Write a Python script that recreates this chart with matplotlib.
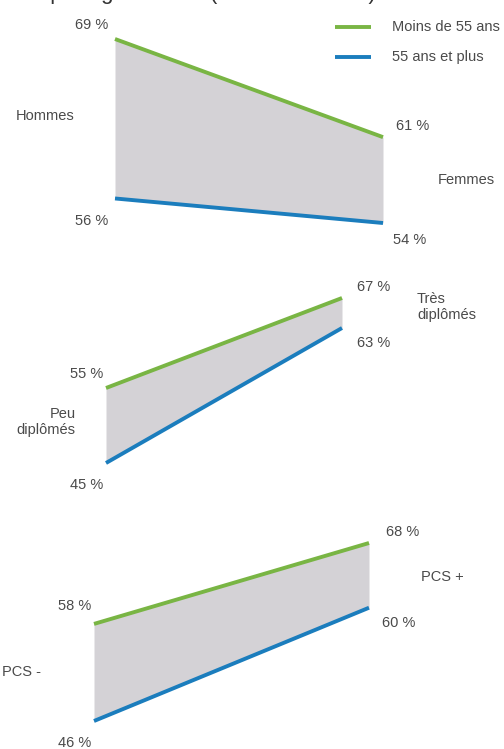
import matplotlib
matplotlib.use("Agg")
import matplotlib.pyplot as plt

# Share of each group, under 55 vs 55 and over
groups_left = ["Hommes", "Peu\ndiplômés", "PCS -"]
groups_right = ["Femmes", "Très\ndiplômés", "PCS +"]
under55_left = [69, 55, 58]
under55_right = [61, 67, 68]
over55_left = [56, 45, 46]
over55_right = [54, 63, 60]
series_names = ["Moins de 55 ans", "55 ans et plus"]

GREEN = "#79b544"
BLUE = "#1b7dbd"
FILL = "#d4d2d6"
TEXT = "#4a4a4a"
FONT = ["Liberation Sans", "DejaVu Sans"]
LW = 2.8

W, H = 504, 749
plt.rcParams["font.family"] = FONT

fig = plt.figure(figsize=(W / 100, H / 100), dpi=100)


def px_axes(left, right, top, bottom):
    return fig.add_axes([left / W, 1 - bottom / H, (right - left) / W, (bottom - top) / H])


# pixel frames of the three panels: (left, right, top, bottom)
frames = [(115, 383, 39, 223), (106, 342, 298, 463), (94, 369, 543, 721)]

# label offsets per panel (points)
left_lbl = [
    dict(up=(-5, 10), lo=(-5, -16), grp=(-50, 2), grp_ha="center"),
    dict(up=(-2, 10), lo=(-2, -16), grp=(-22, 2.5), grp_ha="right"),
    dict(up=(-2, 13), lo=(-2, -16), grp=(-52, 0), grp_ha="center"),
]
right_lbl = [
    dict(up=(9, 8), lo=(7, -12), grp=(60, 0), grp_ha="center"),
    dict(up=(11, 8), lo=(11, -11), grp=(54, -4), grp_ha="left"),
    dict(up=(12, 8), lo=(9, -11), grp=(53, -1.5), grp_ha="center"),
]

for i, (l, r, t, b) in enumerate(frames):
    ax = px_axes(l, r, t, b)
    ymin = min(over55_left[i], over55_right[i])
    ymax = max(under55_left[i], under55_right[i])
    ax.set_xlim(0, 1)
    ax.set_ylim(ymin, ymax)
    ax.axis("off")

    xs = [0, 1]
    up = [under55_left[i], under55_right[i]]
    lo = [over55_left[i], over55_right[i]]
    ax.fill_between(xs, lo, up, color=FILL, lw=0, clip_on=False)
    ax.plot(xs, up, color=GREEN, lw=LW, solid_capstyle="butt", clip_on=False)
    ax.plot(xs, lo, color=BLUE, lw=LW, solid_capstyle="butt", clip_on=False)

    kw = dict(textcoords="offset points", fontsize=10.5, color=TEXT, va="center")
    L, R = left_lbl[i], right_lbl[i]
    ax.annotate(f"{up[0]} %", (0, up[0]), xytext=L["up"], ha="right", **kw)
    ax.annotate(f"{lo[0]} %", (0, lo[0]), xytext=L["lo"], ha="right", **kw)
    ax.annotate(f"{up[1]} %", (1, up[1]), xytext=R["up"], ha="left", **kw)
    ax.annotate(f"{lo[1]} %", (1, lo[1]), xytext=R["lo"], ha="left", **kw)

    mid_l = (up[0] + lo[0]) / 2
    mid_r = (up[1] + lo[1]) / 2
    if i == 1:
        mid_r = up[1] - 0.5
    ax.annotate(groups_left[i], (0, mid_l), xytext=L["grp"], ha=L["grp_ha"],
                multialignment=L["grp_ha"], **kw)
    ax.annotate(groups_right[i], (1, mid_r), xytext=R["grp"], ha=R["grp_ha"],
                multialignment=R["grp_ha"], **kw)

# legend in the top right corner
leg = fig.add_axes([0, 0, 1, 1])
leg.set_xlim(0, W)
leg.set_ylim(H, 0)
leg.axis("off")
for name, color, y in zip(series_names, [GREEN, BLUE], [27, 57]):
    leg.plot([335, 371], [y, y], color=color, lw=LW, solid_capstyle="butt")
    leg.text(392, y, name, fontsize=10.5, color=TEXT, va="center", ha="left")

# title sits above the top edge, only its descenders are inside
fig.text(-0.005, 1 + 1 / H, "Taux par âge et sexe (en % des actifs)",
         fontsize=16, color="#333333", ha="left", va="baseline")

fig.savefig("out.png", dpi=100)
